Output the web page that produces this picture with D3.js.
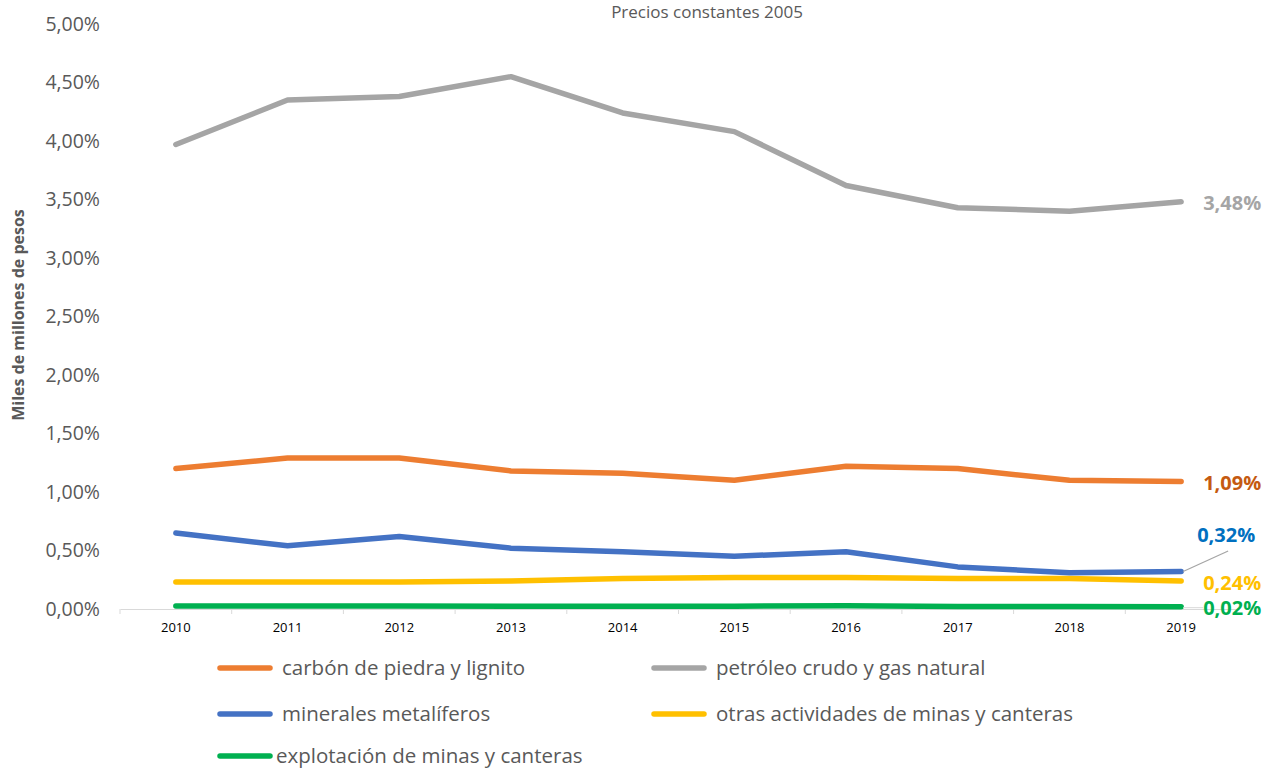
<!DOCTYPE html>
<html>
<head>
<meta charset="utf-8">
<script src="https://cdn.jsdelivr.net/npm/d3@7"></script>
<style>
  body { margin: 0; background: #fff; }
  svg { display: block; font-family: "Open Sans", sans-serif; }
</style>
</head>
<body>
<svg id="chart" width="1265" height="768"></svg>
<script>
// datos (proporción del PIB, precios constantes 2005)
var years = ["2010","2011","2012","2013","2014","2015","2016","2017","2018","2019"];
var carbon    = [0.0120, 0.0129, 0.0129, 0.0118, 0.0116, 0.0110, 0.0122, 0.0120, 0.0110, 0.0109];
var petroleo  = [0.0397, 0.0435, 0.0438, 0.0455, 0.0424, 0.0408, 0.0362, 0.0343, 0.0340, 0.0348];
var minerales = [0.0065, 0.0054, 0.0062, 0.0052, 0.0049, 0.0045, 0.0049, 0.0036, 0.0031, 0.0032];
var otras     = [0.0023, 0.0023, 0.0023, 0.0024, 0.0026, 0.0027, 0.0027, 0.0026, 0.0026, 0.0024];
var explot    = [0.00025, 0.00025, 0.00025, 0.00024, 0.00024, 0.00024, 0.00027, 0.00022, 0.00022, 0.0002];
var yTicks = [0, 0.005, 0.01, 0.015, 0.02, 0.025, 0.03, 0.035, 0.04, 0.045, 0.05];

var series = [
  { name: "carbón de piedra y lignito", values: carbon, color: "#ED7D31", labelColor: "#C55A11" },
  { name: "petróleo crudo y gas natural", values: petroleo, color: "#A5A5A5", labelColor: "#A5A5A5" },
  { name: "minerales metalíferos", values: minerales, color: "#4472C4", labelColor: "#0070C0" },
  { name: "otras actividades de minas y canteras", values: otras, color: "#FFC000", labelColor: "#FFC000" },
  { name: "explotación de minas y canteras", values: explot, color: "#00B050", labelColor: "#00B050" }
];

var es = d3.formatLocale({ decimal: ",", thousands: ".", grouping: [3], currency: ["", "€"] });
var pct = es.format(".2%");

var svg = d3.select("#chart");

var x = d3.scaleBand().domain(years).range([120, 1237]);
var y = d3.scaleLinear().domain([0, 0.05]).range([609, 24]);

// titulo
svg.append("text")
  .attr("x", 707).attr("y", 18)
  .attr("text-anchor", "middle")
  .attr("fill", "#595959")
  .style("font-size", "17px")
  .text("Precios constantes 2005");

// eje y (solo etiquetas)
var yAxis = svg.append("g")
  .attr("transform", "translate(100,0)")
  .call(d3.axisLeft(y).tickValues(yTicks).tickFormat(pct).tickSize(0).tickPadding(0));
yAxis.select(".domain").remove();
yAxis.selectAll("text")
  .attr("fill", "#595959")
  .style("font-size", "19.5px")
  .style("font-family", "Open Sans, sans-serif");

svg.append("text")
  .attr("transform", "translate(24,315) rotate(-90)")
  .attr("text-anchor", "middle")
  .attr("fill", "#595959")
  .style("font-size", "16px")
  .style("font-weight", "bold")
  .text("Miles de millones de pesos");

// eje x
var xAxis = svg.append("g")
  .attr("transform", "translate(0,609)")
  .call(d3.axisBottom(x).tickSize(0).tickPadding(14));
xAxis.select(".domain").attr("stroke", "#D9D9D9");
xAxis.selectAll("text")
  .attr("fill", "#000")
  .style("font-size", "13px")
  .style("font-family", "Open Sans, sans-serif");
xAxis.selectAll(".sep")
  .data(years.concat(["end"]))
  .enter().append("line")
  .attr("x1", (d, i) => 120 + i * x.step())
  .attr("x2", (d, i) => 120 + i * x.step())
  .attr("y1", 0).attr("y2", 5)
  .attr("stroke", "#D9D9D9");

// lineas
var line = d3.line()
  .x((d, i) => x(years[i]) + x.bandwidth() / 2)
  .y(d => y(d));

var drawOrder = [4, 3, 2, 0, 1];
drawOrder.forEach(function(k) {
  var s = series[k];
  svg.append("path")
    .datum(s.values)
    .attr("d", line)
    .attr("fill", "none")
    .attr("stroke", s.color)
    .attr("stroke-width", 5.5)
    .attr("stroke-linecap", "round")
    .attr("stroke-linejoin", "round");
});

// etiquetas finales
var lastX = x(years[9]) + x.bandwidth() / 2;
var labelPos = [
  { k: 1, dx: 22, y: y(petroleo[9]) + 8 },
  { k: 0, dx: 22, y: y(carbon[9]) + 9 },
  { k: 2, dx: 16, y: 542 },
  { k: 3, dx: 22, y: y(otras[9]) + 9 },
  { k: 4, dx: 22, y: y(explot[9]) + 8 }
];
// lineas guia
svg.append("line")
  .attr("x1", lastX + 2).attr("y1", y(minerales[9]))
  .attr("x2", lastX + 47).attr("y2", 551)
  .attr("stroke", "#A5A5A5").attr("stroke-width", 1.2);
svg.append("line")
  .attr("x1", lastX + 2).attr("y1", y(explot[9]) + 1)
  .attr("x2", lastX + 22).attr("y2", y(explot[9]) + 1)
  .attr("stroke", "#D9D9D9").attr("stroke-width", 1);

labelPos.forEach(function(p) {
  var s = series[p.k];
  svg.append("text")
    .attr("x", lastX + p.dx).attr("y", p.y)
    .attr("fill", s.labelColor)
    .style("font-size", "20px")
    .style("font-weight", "bold")
    .text(pct(s.values[9]));
});

// leyenda
var legendPos = [
  { x: 218, y: 668, gap: 10 },
  { x: 652, y: 668, gap: 10 },
  { x: 218, y: 714, gap: 10 },
  { x: 652, y: 714, gap: 10 },
  { x: 218, y: 756, gap: 4 }
];
var legend = svg.selectAll(".leg")
  .data(series)
  .enter().append("g")
  .attr("class", "leg")
  .attr("transform", (d, i) => "translate(" + legendPos[i].x + "," + legendPos[i].y + ")");
legend.append("line")
  .attr("x1", 2).attr("x2", 52)
  .attr("stroke", d => d.color)
  .attr("stroke-width", 5.5)
  .attr("stroke-linecap", "round");
legend.append("text")
  .attr("x", (d, i) => 54 + legendPos[i].gap)
  .attr("y", 7)
  .attr("fill", "#595959")
  .style("font-size", "20.5px")
  .text(d => d.name);
</script>
</body>
</html>
